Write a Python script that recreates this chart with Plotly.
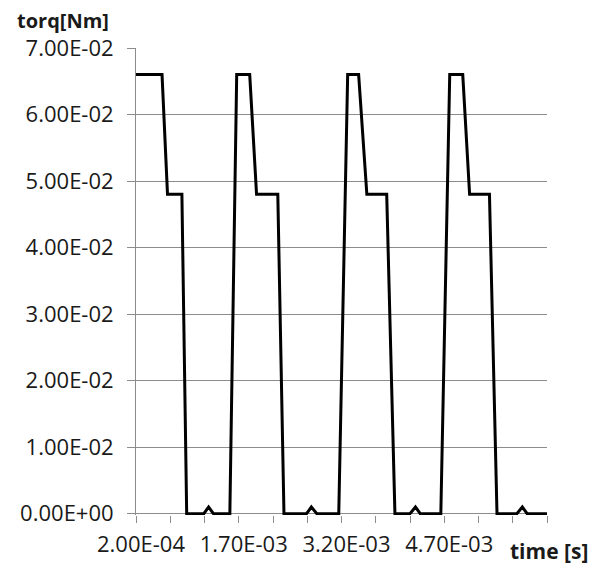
import plotly.graph_objects as go

# ---- data ----
time_s = [2.0e-4, 5.8e-4, 6.6e-4, 8.7e-4, 9.4e-4, 11.9e-4, 12.6e-4, 13.3e-4, 15.7e-4,
          16.7e-4, 18.6e-4, 19.6e-4, 22.7e-4, 23.6e-4, 26.9e-4, 27.6e-4, 28.4e-4, 31.6e-4,
          32.9e-4, 34.5e-4, 35.7e-4, 38.6e-4, 39.8e-4, 42.0e-4, 42.8e-4, 43.5e-4, 46.5e-4,
          47.8e-4, 49.7e-4, 50.7e-4, 53.6e-4, 54.7e-4, 57.6e-4, 58.4e-4, 59.1e-4, 62.0e-4]
torque_Nm = [0.066, 0.066, 0.048, 0.048, 0.0, 0.0, 0.001, 0.0, 0.0,
             0.066, 0.066, 0.048, 0.048, 0.0, 0.0, 0.001, 0.0, 0.0,
             0.066, 0.066, 0.048, 0.048, 0.0, 0.0, 0.001, 0.0, 0.0,
             0.066, 0.066, 0.048, 0.048, 0.0, 0.0, 0.001, 0.0, 0.0]

x_tick_vals = [2e-4 + i * 5e-4 for i in range(13)]
x_label_vals = [2e-4, 1.7e-3, 3.2e-3, 4.7e-3]
y_tick_vals = [i * 0.01 for i in range(8)]

x_tick_text = []
for v in x_tick_vals:
    if any(abs(v - lv) < 1e-9 for lv in x_label_vals):
        x_tick_text.append(f"{v:.2E}")
    else:
        x_tick_text.append("")
y_tick_text = [f"{v:.2E}" for v in y_tick_vals]

FONT = "Open Sans"
TXT = "#1a1a1a"
GRID = "#8c8c8c"
FS = 22

fig = go.Figure()
fig.add_trace(go.Scatter(x=time_s, y=torque_Nm, mode="lines",
                         line=dict(color="black", width=3), showlegend=False))

# the page body has an 8 px default margin, so the figure is 8 px smaller
fig.update_layout(
    width=589, height=557,
    margin=dict(l=128, r=50, t=40, b=50),
    paper_bgcolor="white", plot_bgcolor="white",
    font=dict(family=FONT, size=FS, color=TXT),
    xaxis=dict(range=[2e-4, 6.2e-3], showgrid=False, zeroline=False, showline=False,
               automargin=False,
               tickmode="array", tickvals=x_tick_vals, ticktext=x_tick_text,
               ticks="outside", ticklen=7, tickcolor=GRID, tickwidth=1,
               tickfont=dict(family=FONT, size=FS, color=TXT),
               ticklabelshift=5, ticklabelstandoff=3),
    yaxis=dict(range=[-0.0002, 0.07], showgrid=True, gridcolor=GRID, gridwidth=1,
               zeroline=False, showline=True, linecolor=GRID, linewidth=1,
               automargin=False,
               tickmode="array", tickvals=y_tick_vals, ticktext=y_tick_text,
               ticks="outside", ticklen=8, tickcolor=GRID, tickwidth=1,
               tickfont=dict(family=FONT, size=FS, color=TXT),
               ticklabelstandoff=9),
    annotations=[
        dict(text="<b>torq[Nm]</b>", xref="paper", yref="paper", x=-0.295, y=1.058,
             xanchor="left", yanchor="middle", showarrow=False,
             font=dict(family=FONT, size=20, color=TXT)),
        dict(text="<b>time [s]</b>", xref="paper", yref="paper", x=0.905, y=-0.078,
             xanchor="left", yanchor="middle", showarrow=False,
             font=dict(family=FONT, size=21, color=TXT)),
    ],
)

fig.write_html("out.html")
